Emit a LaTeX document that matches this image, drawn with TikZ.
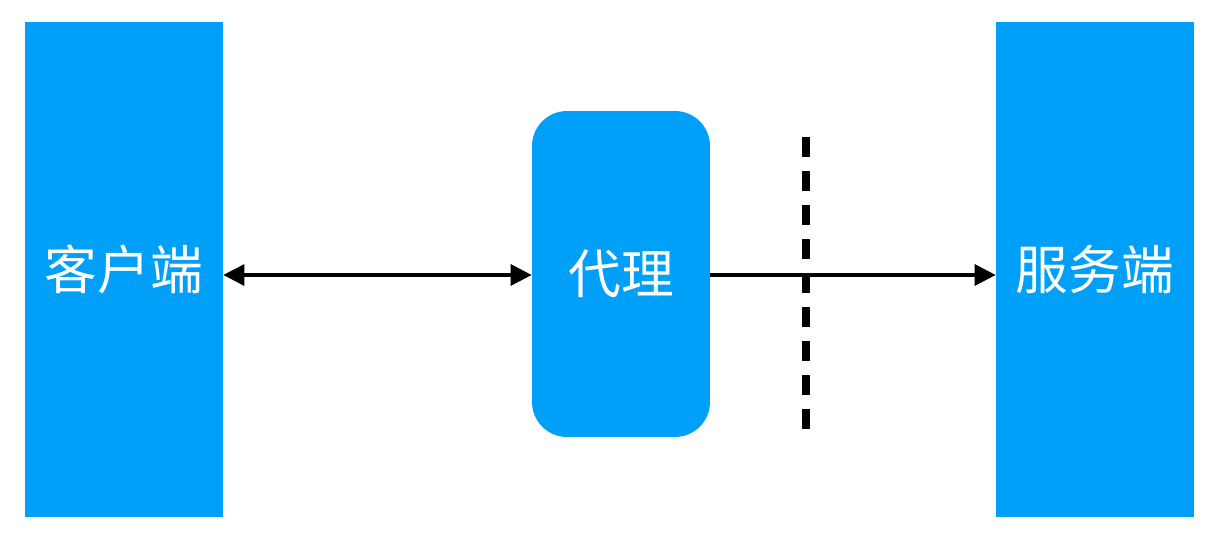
\documentclass[tikz,border=0pt]{standalone}
\usepackage{fontspec}
\newfontfamily\cjk{Noto Sans CJK SC}
\usetikzlibrary{arrows.meta}
\definecolor{boxblue}{HTML}{00A0F8}
\begin{document}
\begin{tikzpicture}[x=0.02cm,y=-0.02cm,
  blk/.style={fill=boxblue,draw=none,inner sep=0pt,text=white,font=\cjk\fontsize{30}{36}\selectfont},
  conn/.style={line width=1.8pt,-{Triangle[length=0.42cm,width=0.42cm]}}]
\useasboundingbox (0,0) rectangle (1226,537);
\node[blk,minimum width=3.96cm,minimum height=9.9cm] (client) at (124,269.5) {客户端};
\node[blk,minimum width=3.96cm,minimum height=9.9cm] (server) at (1095,269.5) {服务端};
\node[blk,minimum width=3.56cm,minimum height=6.52cm,rounded corners=0.7cm] (proxy) at (621,274) {代理};
\draw[conn,{Triangle[length=0.42cm,width=0.42cm]}-{Triangle[length=0.42cm,width=0.42cm]}] (client.east |- 0,275) -- (proxy.west |- 0,275);
\draw[conn] (proxy.east |- 0,275) -- (server.west |- 0,275);
\coordinate (dtop) at (806,137);
\coordinate (dbot) at (806,430);
\draw[line width=0.16cm,dash pattern=on 0.4cm off 0.28cm] (dtop) -- (dbot);
\end{tikzpicture}
\end{document}
